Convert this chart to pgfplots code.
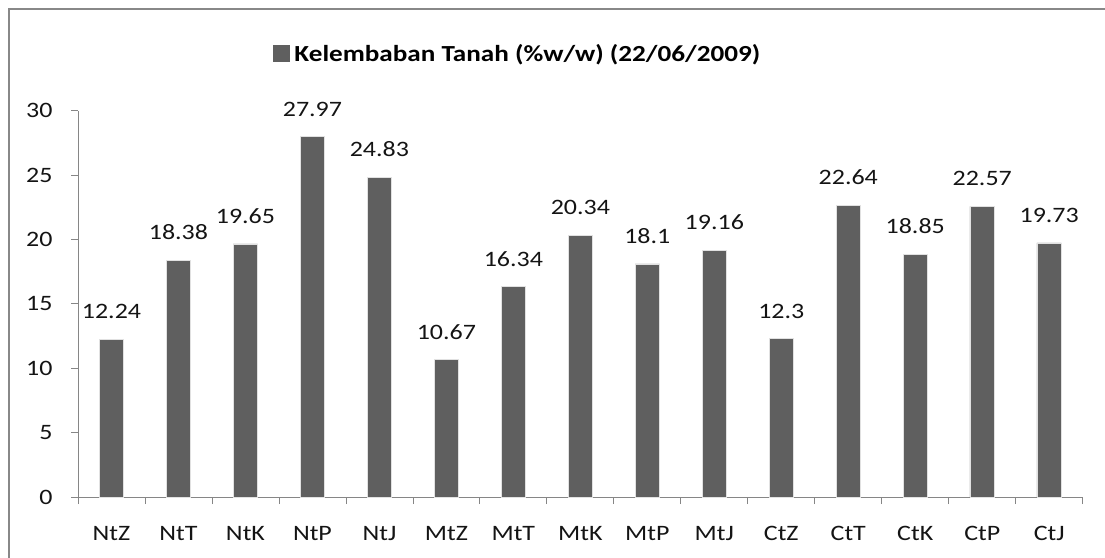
\documentclass[border=0pt]{standalone}
\usepackage{pgfplots}
\pgfplotsset{compat=1.18}
\usepackage{fontspec}
\setmainfont{Carlito}[FakeStretch=1.18]
\definecolor{barcol}{RGB}{95,95,95}
\definecolor{shadcol}{RGB}{225,225,225}
\definecolor{axcol}{RGB}{134,134,134}
\definecolor{framecol}{RGB}{136,136,136}
\definecolor{txtcol}{RGB}{20,20,20}
\begin{document}
\begin{tikzpicture}[x=1pt,y=1pt]
\path[use as bounding box] (0,0) rectangle (1105,557);
\draw[framecol, line width=2pt] (8.5,-20) -- (8.5,547.5) -- (1125,547.5);
\begin{axis}[
  at={(78pt,60pt)}, anchor=south west,
  scale only axis, width=1004.7pt, height=386.3pt,
  xmin=0.5, xmax=15.5, ymin=0, ymax=30,
  axis lines*=left,
  axis line style={axcol, line width=1pt},
  tick style={axcol, line width=0.8pt},
  tick align=outside,
  major tick length=7pt, minor tick length=7pt,
  ytick={0,5,...,30},
  xtick={1,...,15},
  xticklabels={NtZ,NtT,NtK,NtP,NtJ,MtZ,MtT,MtK,MtP,MtJ,CtZ,CtT,CtK,CtP,CtJ},
  minor xtick={0.5,1.5,...,15.5},
  major x tick style={draw=none},
  tick label style={font=\fontsize{22}{26}\selectfont, text=txtcol},
  yticklabel style={xshift=-15pt},
  xticklabel style={yshift=-19pt},
  /pgf/number format/assume math mode=true,
  ybar, bar width=24.5pt,
  nodes near coords,
  point meta=explicit symbolic,
  every node near coord/.append style={anchor=south, inner sep=0pt, yshift=20pt, font=\fontsize{22}{26}\selectfont, text=txtcol},
  legend style={at={(0.4374,1.1468)}, anchor=center, draw=none, fill=none, font=\bfseries\fontsize{23}{27}\selectfont},
  legend image code/.code={\fill[barcol] (0pt,-7.5pt) rectangle (16pt,8.5pt);},
]
\addplot[fill=barcol, draw=shadcol, line width=0.8pt] table[meta=lab] {
x y lab
1 12.24 12.24
2 18.38 18.38
3 19.65 19.65
4 27.97 27.97
5 24.83 24.83
6 10.67 10.67
7 16.34 16.34
8 20.34 20.34
9 18.1 18.1
10 19.16 19.16
11 12.3 12.3
12 22.64 22.64
13 18.85 18.85
14 22.57 22.57
15 19.73 19.73
};
\addlegendentry{\hspace{3pt}Kelembaban Tanah (\%w/w) (22/06/2009)}
\end{axis}
\end{tikzpicture}
\end{document}
